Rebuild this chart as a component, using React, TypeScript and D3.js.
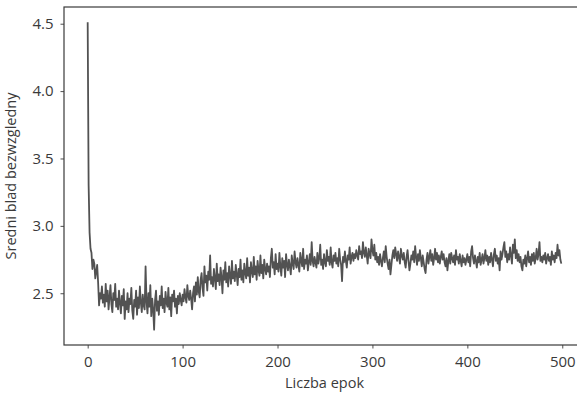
import { useEffect, useRef } from 'react';
import * as d3 from 'd3';

// mean absolute error per epoch
const maeValues: number[] = [
  4.51, 3.30, 2.95, 2.83, 2.80, 2.68, 2.75, 2.72, 2.61, 2.66, 2.71, 2.58, 2.41, 2.50, 2.46, 2.55, 2.43, 2.49, 2.40, 2.57,
  2.44, 2.52, 2.38, 2.47, 2.56, 2.42, 2.36, 2.50, 2.45, 2.57, 2.40, 2.46, 2.38, 2.52, 2.43, 2.35, 2.48, 2.41, 2.53, 2.31,
  2.44, 2.38, 2.50, 2.36, 2.46, 2.42, 2.54, 2.37, 2.31, 2.45, 2.40, 2.52, 2.34, 2.47, 2.39, 2.55, 2.43, 2.36, 2.49, 2.41,
  2.38, 2.70, 2.44, 2.35, 2.50, 2.40, 2.56, 2.33, 2.46, 2.38, 2.23, 2.45, 2.52, 2.37, 2.44, 2.34, 2.48, 2.41, 2.55, 2.39,
  2.46, 2.36, 2.51, 2.43, 2.40, 2.54, 2.38, 2.47, 2.33, 2.49, 2.44, 2.52, 2.40, 2.46, 2.35, 2.48, 2.42, 2.50, 2.45, 2.41,
  2.49, 2.44, 2.53, 2.47, 2.43, 2.56, 2.48, 2.45, 2.52, 2.46, 2.38, 2.50, 2.55, 2.44, 2.58, 2.49, 2.62, 2.51, 2.47, 2.60,
  2.65, 2.54, 2.48, 2.70, 2.58, 2.63, 2.52, 2.66, 2.60, 2.78, 2.57, 2.62, 2.55, 2.68, 2.61, 2.53, 2.72, 2.59, 2.64, 2.56,
  2.69, 2.62, 2.50, 2.67, 2.60, 2.73, 2.58, 2.65, 2.55, 2.70, 2.63, 2.57, 2.74, 2.61, 2.66, 2.59, 2.71, 2.64, 2.56, 2.68,
  2.62, 2.75, 2.60, 2.67, 2.58, 2.72, 2.65, 2.61, 2.76, 2.63, 2.69, 2.58, 2.73, 2.66, 2.62, 2.77, 2.64, 2.70, 2.60, 2.74,
  2.67, 2.63, 2.78, 2.65, 2.71, 2.61, 2.75, 2.68, 2.64, 2.72, 2.66, 2.70, 2.62, 2.76, 2.83, 2.69, 2.73, 2.64, 2.79, 2.68,
  2.72, 2.66, 2.80, 2.70, 2.63, 2.76, 2.69, 2.74, 2.62, 2.79, 2.71, 2.67, 2.75, 2.70, 2.64, 2.78, 2.72, 2.68, 2.81, 2.73,
  2.69, 2.76, 2.71, 2.66, 2.80, 2.74, 2.70, 2.83, 2.68, 2.75, 2.72, 2.78, 2.67, 2.73, 2.79, 2.71, 2.88, 2.74, 2.70, 2.77,
  2.73, 2.69, 2.80, 2.72, 2.76, 2.86, 2.71, 2.75, 2.68, 2.79, 2.73, 2.70, 2.82, 2.74, 2.77, 2.71, 2.84, 2.73, 2.69, 2.78,
  2.74, 2.80, 2.72, 2.76, 2.70, 2.83, 2.75, 2.71, 2.59, 2.77, 2.73, 2.81, 2.74, 2.69, 2.78, 2.75, 2.84, 2.72, 2.77, 2.80,
  2.74, 2.79, 2.76, 2.82, 2.78, 2.75, 2.85, 2.79, 2.81, 2.76, 2.88, 2.80, 2.77, 2.84, 2.78, 2.72, 2.83, 2.79, 2.76, 2.90,
  2.82, 2.78, 2.86, 2.75, 2.80, 2.73, 2.77, 2.71, 2.79, 2.74, 2.70, 2.76, 2.81, 2.73, 2.85, 2.77, 2.72, 2.68, 2.75, 2.64,
  2.71, 2.78, 2.82, 2.76, 2.84, 2.79, 2.74, 2.81, 2.77, 2.72, 2.83, 2.78, 2.75, 2.80, 2.73, 2.69, 2.77, 2.82, 2.74, 2.67,
  2.72, 2.78, 2.75, 2.81, 2.73, 2.85, 2.77, 2.71, 2.79, 2.74, 2.82, 2.76, 2.70, 2.78, 2.73, 2.68, 2.65, 2.75, 2.80, 2.72,
  2.77, 2.82, 2.74, 2.79, 2.71, 2.76, 2.83, 2.75, 2.80, 2.73, 2.78, 2.72, 2.77, 2.81, 2.75, 2.79, 2.73, 2.70, 2.76, 2.67,
  2.74, 2.79, 2.72, 2.80, 2.76, 2.73, 2.78, 2.71, 2.82, 2.75, 2.77, 2.72, 2.79, 2.74, 2.70, 2.78, 2.73, 2.76, 2.71, 2.75,
  2.79, 2.73, 2.77, 2.70, 2.81, 2.85, 2.76, 2.72, 2.78, 2.74, 2.69, 2.77, 2.73, 2.80, 2.71, 2.75, 2.79, 2.72, 2.76, 2.82,
  2.74, 2.78, 2.71, 2.77, 2.73, 2.80, 2.75, 2.70, 2.79, 2.83, 2.74, 2.78, 2.72, 2.76, 2.67, 2.81, 2.75, 2.79, 2.84, 2.88,
  2.77, 2.81, 2.73, 2.79, 2.75, 2.84, 2.78, 2.72, 2.86, 2.80, 2.90, 2.76, 2.82, 2.74, 2.79, 2.73, 2.77, 2.70, 2.67, 2.75,
  2.72, 2.78, 2.70, 2.76, 2.81, 2.73, 2.77, 2.71, 2.79, 2.74, 2.80, 2.72, 2.76, 2.83, 2.75, 2.79, 2.88, 2.74, 2.77, 2.73,
  2.78, 2.75, 2.80, 2.72, 2.76, 2.79, 2.74, 2.77, 2.71, 2.81, 2.75, 2.78, 2.73, 2.80, 2.76, 2.86, 2.78, 2.82, 2.75, 2.72
];
const epochs: number[] = maeValues.map((_, i) => i);

const xTicks: number[] = [0, 100, 200, 300, 400, 500];
const yTicks: number[] = [2.5, 3.0, 3.5, 4.0, 4.5];
const xAxisLabel = 'Liczba epok';
const yAxisLabel = 'Sredni blad bezwzgledny';

export default function App() {
  const svgRef = useRef<SVGSVGElement>(null);
  const width = 577;
  const height = 393;
  const margin = { top: 7, right: -8, bottom: 48, left: 64 };

  useEffect(() => {
    const svg = d3.select(svgRef.current);
    svg.selectAll('*').remove();

    const innerW = width - margin.left - margin.right;
    const innerH = height - margin.top - margin.bottom;
    const font = '"Open Sans", "DejaVu Sans", sans-serif';
    const ink = '#3a3a3a';

    // matplotlib style 5% padding on both axes
    const [x0, x1] = d3.extent(epochs) as [number, number];
    const [y0, y1] = d3.extent(maeValues) as [number, number];
    const px = (x1 - x0) * 0.05;
    const py = (y1 - y0) * 0.05;

    const x = d3.scaleLinear().domain([x0 - px, x1 + px]).range([0, innerW]);
    const y = d3.scaleLinear().domain([y0 - py, y1 + py]).range([innerH, 0]);

    const g = svg.append('g').attr('transform', `translate(${margin.left},${margin.top})`);

    // line
    const line = d3.line<number>()
      .x((_, i) => x(epochs[i]))
      .y(d => y(d));

    g.append('path')
      .datum(maeValues)
      .attr('fill', 'none')
      .attr('stroke', '#525252')
      .attr('stroke-width', 1.8)
      .attr('stroke-linejoin', 'round')
      .attr('d', line);

    // x axis
    const xAxis = g.append('g')
      .attr('transform', `translate(0,${innerH})`)
      .call(d3.axisBottom(x).tickValues(xTicks).tickSize(3.5).tickPadding(8).tickFormat(d3.format('d')));
    xAxis.select('.domain').remove();
    xAxis.selectAll('line').attr('stroke', ink).attr('stroke-width', 0.9);
    xAxis.selectAll('text').attr('fill', '#3a3a3a').style('font-family', font).style('font-size', '15px');

    // y axis
    const yAxis = g.append('g')
      .call(d3.axisLeft(y).tickValues(yTicks).tickSize(3.5).tickPadding(7).tickFormat(d3.format('.1f')));
    yAxis.select('.domain').remove();
    yAxis.selectAll('line').attr('stroke', ink).attr('stroke-width', 0.9);
    yAxis.selectAll('text').attr('fill', '#3a3a3a').style('font-family', font).style('font-size', '15px');

    // spines
    g.append('rect')
      .attr('x', 0)
      .attr('y', 0)
      .attr('width', innerW)
      .attr('height', innerH)
      .attr('fill', 'none')
      .attr('stroke', ink)
      .attr('stroke-width', 1.2);

    // axis labels
    g.append('text')
      .attr('x', innerW / 2)
      .attr('y', innerH + 43)
      .attr('text-anchor', 'middle')
      .attr('fill', '#3a3a3a')
      .style('font-family', font)
      .style('font-size', '14.5px')
      .text(xAxisLabel);

    g.append('text')
      .attr('transform', 'rotate(-90)')
      .attr('x', -innerH / 2)
      .attr('y', -48)
      .attr('text-anchor', 'middle')
      .attr('fill', '#3a3a3a')
      .style('font-family', font)
      .style('font-size', '14.5px')
      .text(yAxisLabel);
  }, []);

  return (
    <div style={{ position: 'absolute', left: 0, top: 0, width, height, overflow: 'hidden', background: '#fff' }}>
      <svg ref={svgRef} width={width} height={height} style={{ display: 'block' }}></svg>
    </div>
  );
}
